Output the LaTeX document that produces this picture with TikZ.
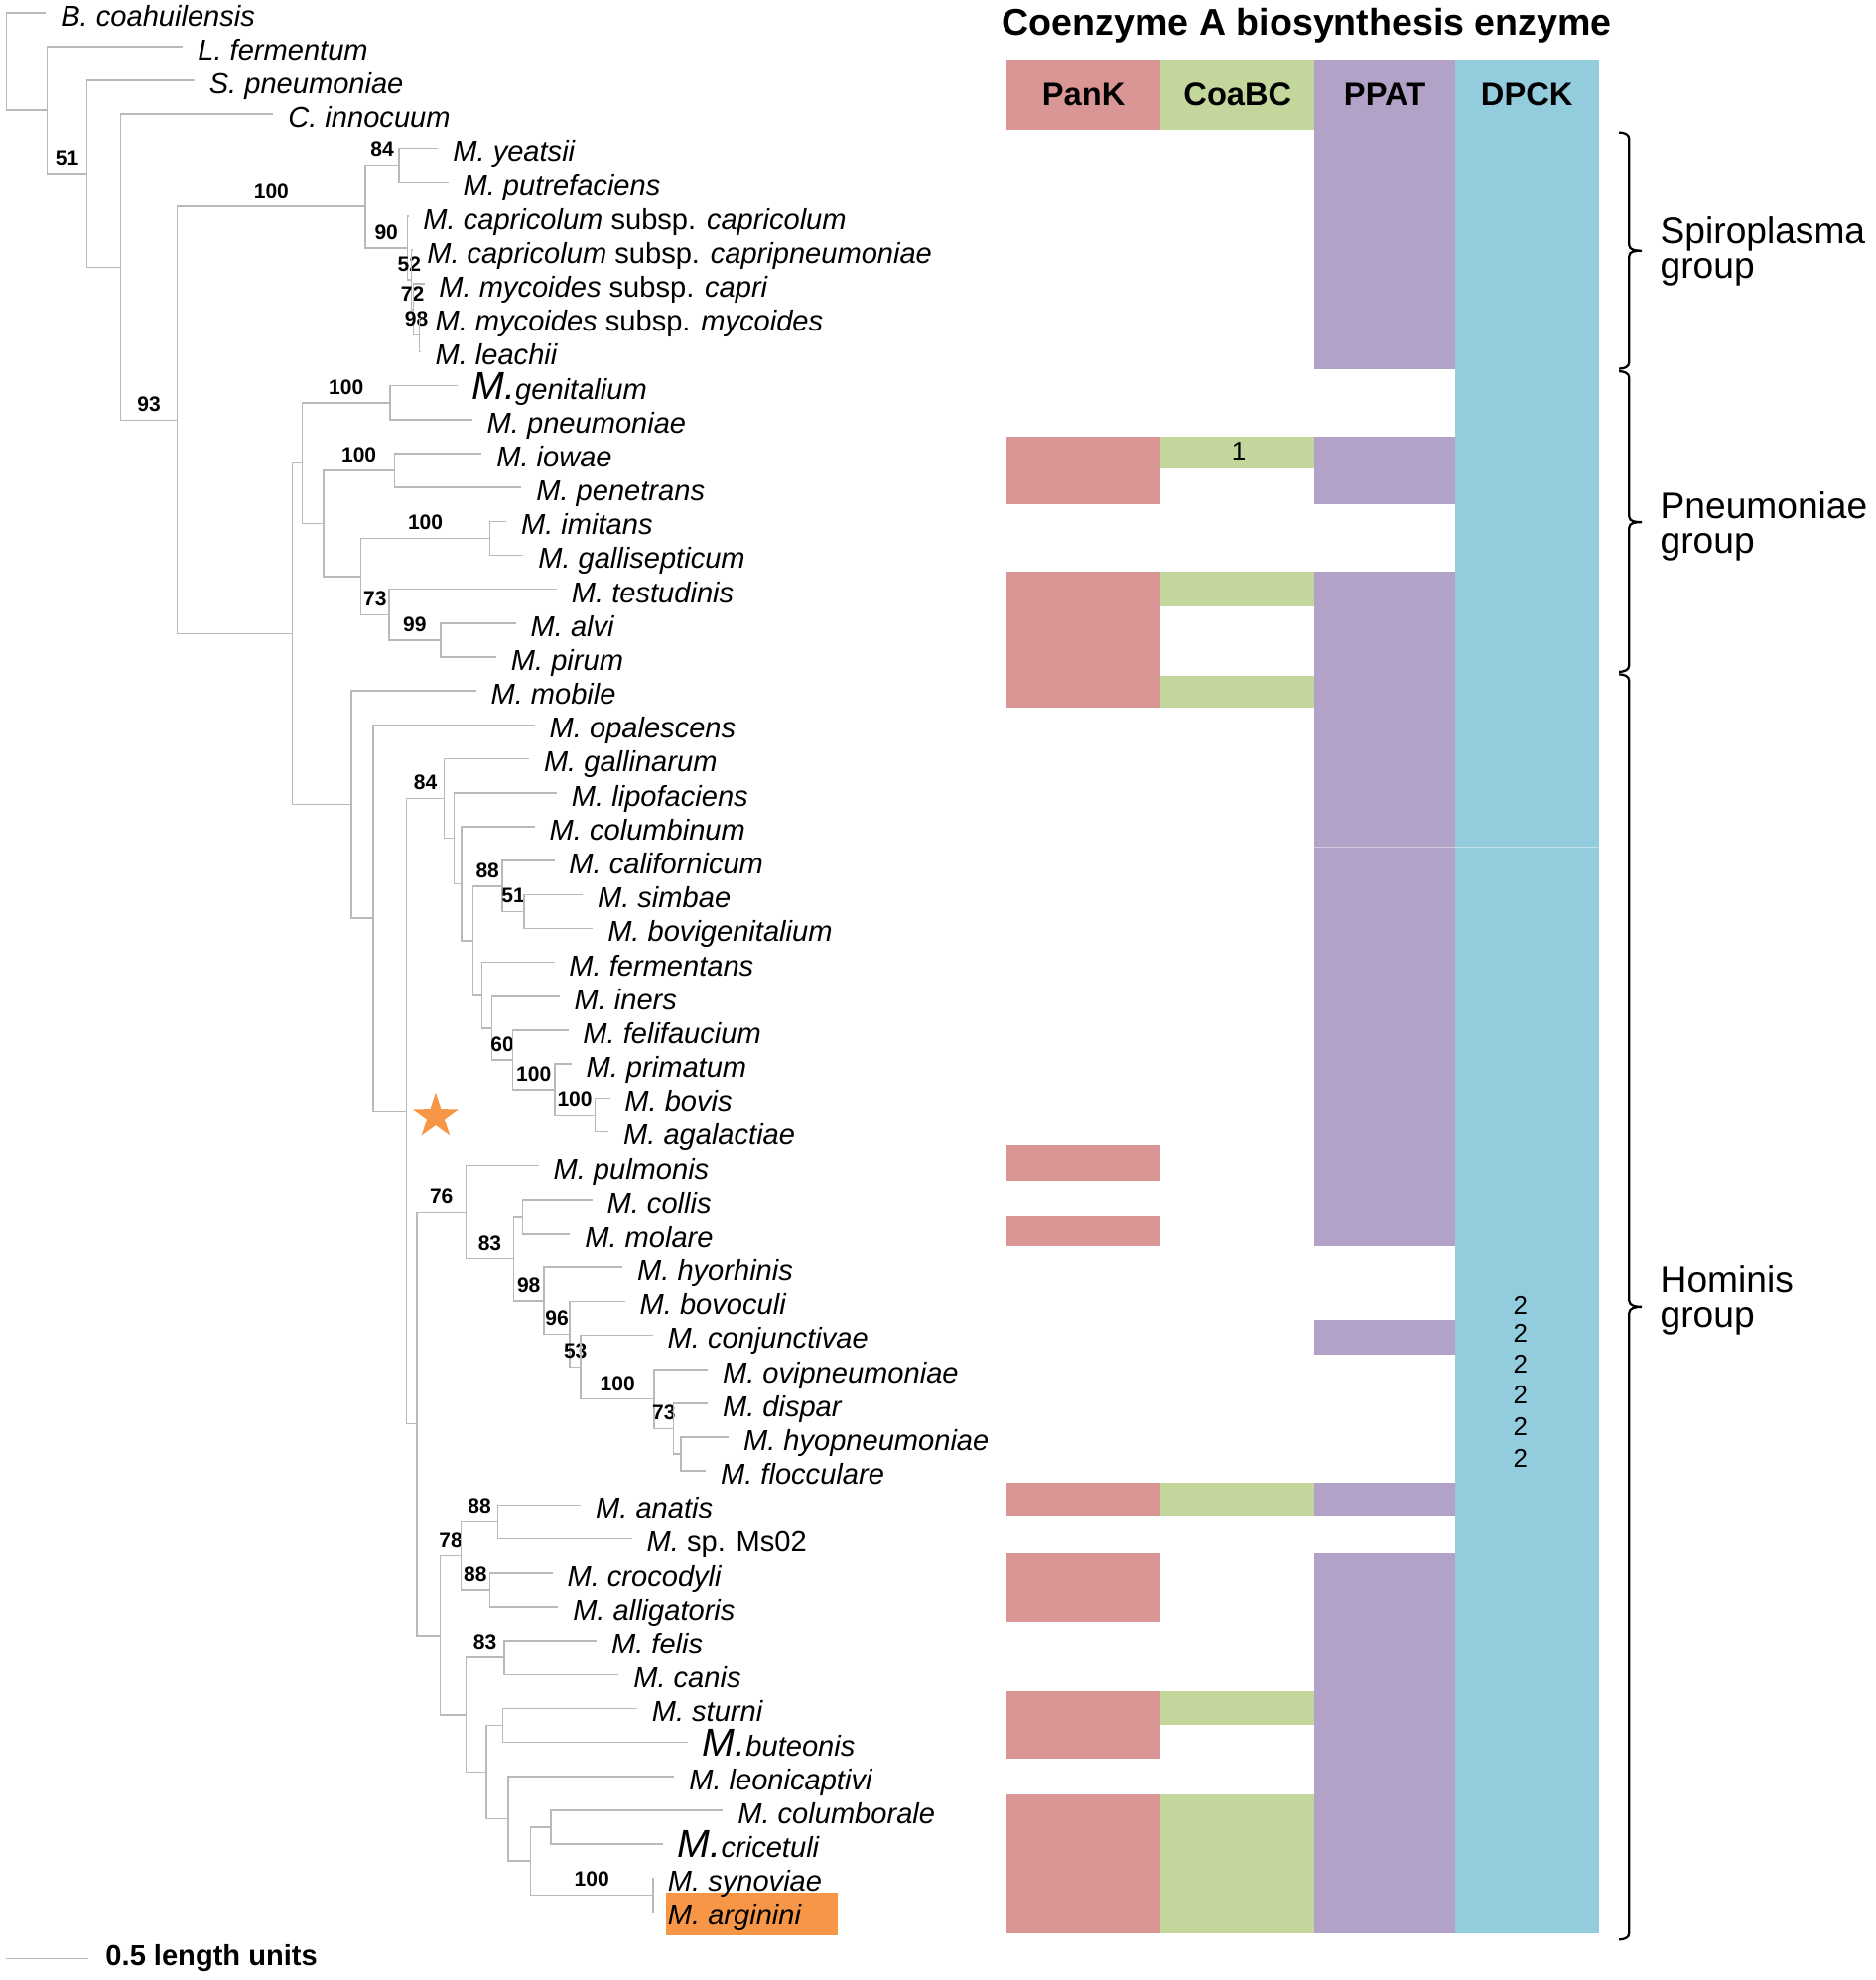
\documentclass[tikz,border=0pt]{standalone}
\usepackage{fontspec}
\setmainfont{Liberation Sans}
\usepackage{xcolor}
\usetikzlibrary{shapes.geometric}

\definecolor{pankred}{HTML}{D99694}
\definecolor{coagreen}{HTML}{C3D69B}
\definecolor{ppatpurple}{HTML}{B3A2C7}
\definecolor{dpckblue}{HTML}{93CDDD}
\definecolor{markorange}{HTML}{F79646}

\newcommand{\bigM}{{\fontsize{8.8}{9}\selectfont M.}}

\begin{document}
\begin{tikzpicture}[x=0.01cm, y=-0.01cm,
    branch/.style={draw=gray!55, line width=0.35pt},
    taxon/.style={anchor=base west, inner sep=0pt, xshift=0.11cm, yshift=-0.105cm, font=\fontsize{6.5}{7}\selectfont\itshape},
    boot/.style={above, inner sep=0pt, yshift=0.06cm, font=\fontsize{4.7}{5}\selectfont\bfseries},
    head/.style={font=\fontsize{7.3}{8}\selectfont\bfseries},
    grouplabel/.style={anchor=west, align=left, inner sep=0pt, font=\fontsize{8.3}{7.8}\selectfont},
    bracket/.style={draw=black, line width=0.5pt},
    count/.style={inner sep=0pt, font=\fontsize{5.8}{6}\selectfont}]
    \useasboundingbox (0,0) rectangle (1485,1568);

    % Enzyme columns
    \fill[pankred] (797,47) rectangle (919,103);
    \fill[coagreen] (919,47) rectangle (1041,103);
    \fill[ppatpurple] (1041,47) rectangle (1152,292);
    \fill[dpckblue] (1152,47) rectangle (1266,1531);
    \node[font=\fontsize{8.4}{10}\selectfont\bfseries] (title) at (1035,20) {Coenzyme A biosynthesis enzyme};
    \node[head] (hPanK) at (858,75) {PanK};
    \node[head] (hCoaBC) at (980,75) {CoaBC};
    \node[head] (hPPAT) at (1096.5,75) {PPAT};
    \node[head] (hDPCK) at (1209,75) {DPCK};

    % PanK
    \fill[pankred] (797,346) rectangle (919,399);
    \fill[pankred] (797,453) rectangle (919,560);
    \fill[pankred] (797,907) rectangle (919,935);
    \fill[pankred] (797,963) rectangle (919,986);
    \fill[pankred] (797,1174) rectangle (919,1200);
    \fill[pankred] (797,1230) rectangle (919,1284);
    \fill[pankred] (797,1339) rectangle (919,1393);
    \fill[pankred] (797,1421) rectangle (919,1531);
    % CoaBC
    \fill[coagreen] (919,346) rectangle (1041,371);
    \fill[coagreen] (919,453) rectangle (1041,480);
    \fill[coagreen] (919,535) rectangle (1041,560);
    \fill[coagreen] (919,1174) rectangle (1041,1200);
    \fill[coagreen] (919,1339) rectangle (1041,1366);
    \fill[coagreen] (919,1421) rectangle (1041,1531);
    % PPAT
    \fill[ppatpurple] (1041,346) rectangle (1152,399);
    \fill[ppatpurple] (1041,453) rectangle (1152,986);
    \fill[ppatpurple] (1041,1045) rectangle (1152,1073);
    \fill[ppatpurple] (1041,1174) rectangle (1152,1200);
    \fill[ppatpurple] (1041,1230) rectangle (1152,1531);
    \draw[white, opacity=0.45, line width=0.3pt] (1041,671) -- (1266,671);

    % Copy numbers
    \node[count] (c1) at (981,357) {1};
    \node[count] (c2a) at (1204,1034) {2};
    \node[count] (c2b) at (1204,1056) {2};
    \node[count] (c2c) at (1204,1080) {2};
    \node[count] (c2d) at (1204,1105) {2};
    \node[count] (c2e) at (1204,1130) {2};
    \node[count] (c2f) at (1204,1155) {2};

    % Groups
    \draw[bracket] (1282,105) to[out=0,in=90] (1290,110) -- (1290,194) to[out=-90,in=180] (1300,198.6)
        to[out=180,in=90] (1290,203) -- (1290,287) to[out=-90,in=0] (1282,292);
    \draw[bracket] (1282,294) to[out=0,in=90] (1290,299) -- (1290,409) to[out=-90,in=180] (1300,413.5)
        to[out=180,in=90] (1290,418) -- (1290,527) to[out=-90,in=0] (1282,532);
    \draw[bracket] (1282,534) to[out=0,in=90] (1290,539) -- (1290,1030) to[out=-90,in=180] (1300,1035)
        to[out=180,in=90] (1290,1040) -- (1290,1531) to[out=-90,in=0] (1282,1536);
    \node[grouplabel] (gSpiro) at (1314,199) {Spiroplasma\\group};
    \node[grouplabel] (gPneumo) at (1314,417) {Pneumoniae\\group};
    \node[grouplabel] (gHominis) at (1314,1030) {Hominis\\group};

    % Internal nodes of the tree
    \coordinate (nRoot) at (5,48.64);
    \coordinate (nA) at (37.4,87.28);
    \coordinate (nB) at (68.8,137.7);
    \coordinate (nC) at (95.5,211.68);
    \coordinate (nD) at (140.4,332.77);
    \coordinate (nE) at (289.3,163.6);
    \coordinate (nF) at (316,130.87);
    \coordinate (nG) at (322.5,196.34);
    \coordinate (nH) at (325.8,221.52);
    \coordinate (nI) at (327.5,245.03);
    \coordinate (nJ) at (332,265.17);
    \coordinate (nP) at (231.5,501.93);
    \coordinate (nQ) at (239.4,366.74);
    \coordinate (nS) at (308.7,318.89);
    \coordinate (nT) at (256.2,414.58);
    \coordinate (nU) at (312.3,372.61);
    \coordinate (nV) at (285.7,456.55);
    \coordinate (nW) at (388,426.33);
    \coordinate (nX) at (308.1,486.77);
    \coordinate (nY) at (348.8,506.91);
    \coordinate (nR) at (278.3,637.11);
    \coordinate (nZ) at (295.5,727.02);
    \coordinate (nAA) at (321.9,879.97);
    \coordinate (nAB) at (351.7,632.35);
    \coordinate (nAC) at (359.6,663.77);
    \coordinate (nAD) at (365.5,699.76);
    \coordinate (nAE) at (374.4,744.88);
    \coordinate (nAF) at (397.8,701.65);
    \coordinate (nAG) at (415,721.79);
    \coordinate (nAH) at (381.7,788.1);
    \coordinate (nAI) at (389.6,814.13);
    \coordinate (nAJ) at (406,839.31);
    \coordinate (nAK) at (439.2,862.81);
    \coordinate (nAL) at (471.1,882.95);
    \coordinate (nAN) at (330,1127.58);
    \coordinate (nAO) at (369.1,960.07);
    \coordinate (nBC) at (406.6,996.9);
    \coordinate (nBD) at (413.7,963.53);
    \coordinate (nBE) at (430.8,1030.27);
    \coordinate (nBF) at (451.3,1056.71);
    \coordinate (nBG) at (460,1082.73);
    \coordinate (nBH) at (518,1107.91);
    \coordinate (nBI) at (533.4,1131.41);
    \coordinate (nBJ) at (539,1151.55);
    \coordinate (nAT) at (348.7,1295.09);
    \coordinate (nAR) at (365,1232.13);
    \coordinate (nAQ) at (394.3,1205.27);
    \coordinate (nAS) at (387.8,1258.99);
    \coordinate (nAU) at (368.9,1358.04);
    \coordinate (nAV) at (399.2,1312.71);
    \coordinate (nAW) at (385,1403.37);
    \coordinate (nAX) at (398,1366.43);
    \coordinate (nAY) at (402.4,1440.3);
    \coordinate (nAZ) at (420.1,1473.87);
    \coordinate (nBA) at (436,1447.01);
    \coordinate (nBB) at (517.2,1500.73);

    % Leaf tips
    \coordinate (lBcoa) at (36.5,10);
    \coordinate (lLfer) at (145,36.86);
    \coordinate (lSpn) at (154,63.72);
    \coordinate (lCin) at (216.5,90.58);
    \coordinate (lYea) at (347,117.44);
    \coordinate (lPut) at (355,144.3);
    \coordinate (lCapCap) at (323.5,171.16);
    \coordinate (lCapCpn) at (326.5,198.02);
    \coordinate (lMycCap) at (336,224.88);
    \coordinate (lMycMyc) at (333,251.74);
    \coordinate (lLea) at (333,278.6);
    \coordinate (lGen) at (362,305.46);
    \coordinate (lPne) at (374,332.32);
    \coordinate (lIow) at (381.5,359.18);
    \coordinate (lPen) at (413,386.04);
    \coordinate (lImi) at (401,412.9);
    \coordinate (lGal) at (414.5,439.76);
    \coordinate (lTes) at (441,466.62);
    \coordinate (lAlv) at (408.5,493.48);
    \coordinate (lPir) at (393,520.34);
    \coordinate (lMob) at (377,547.2);
    \coordinate (lOpa) at (423.5,574.06);
    \coordinate (lGln) at (419,600.92);
    \coordinate (lLip) at (441,627.78);
    \coordinate (lCol) at (423.5,654.64);
    \coordinate (lCal) at (439,681.5);
    \coordinate (lSim) at (461.5,708.36);
    \coordinate (lBvg) at (469.5,735.22);
    \coordinate (lFer) at (439,762.08);
    \coordinate (lIne) at (443,788.94);
    \coordinate (lFel) at (450,815.8);
    \coordinate (lPri) at (452.5,842.66);
    \coordinate (lBov) at (483,869.52);
    \coordinate (lAga) at (482,896.38);
    \coordinate (lPul) at (426.5,923.24);
    \coordinate (lCls) at (469,950.1);
    \coordinate (lMol) at (451.5,976.96);
    \coordinate (lHyr) at (493,1003.82);
    \coordinate (lBvc) at (495,1030.68);
    \coordinate (lCon) at (517,1057.54);
    \coordinate (lOvi) at (560.5,1084.4);
    \coordinate (lDis) at (560.5,1111.26);
    \coordinate (lHyp) at (577,1138.12);
    \coordinate (lFlo) at (559,1164.98);
    \coordinate (lAna) at (460,1191.84);
    \coordinate (lMs) at (500.5,1218.7);
    \coordinate (lCro) at (437.5,1245.56);
    \coordinate (lAll) at (442,1272.42);
    \coordinate (lFls) at (472.5,1299.28);
    \coordinate (lCan) at (490,1326.14);
    \coordinate (lStu) at (504.5,1353);
    \coordinate (lBut) at (544.5,1379.86);
    \coordinate (lLeo) at (534,1406.72);
    \coordinate (lClb) at (572.5,1433.58);
    \coordinate (lCri) at (525,1460.44);
    \coordinate (lSyn) at (517.2,1487.3);
    \coordinate (lArg) at (517.2,1514.16);

    % Outgroups
    \draw[branch] (nRoot) |- (lBcoa);
    \draw[branch] (nRoot) |- (nA);
    \draw[branch] (nA) |- (lLfer);
    \draw[branch] (nA) |- (nB) node[boot, pos=0.75] {51};
    \draw[branch] (nB) |- (lSpn);
    \draw[branch] (nB) |- (nC);
    \draw[branch] (nC) |- (lCin);
    \draw[branch] (nC) |- (nD) node[boot, pos=0.75] {93};
    \draw[branch] (nD) |- (nE) node[boot, pos=0.75] {100};
    \draw[branch] (nD) |- (nP);

    % Spiroplasma group
    \draw[branch] (nE) |- (nF) node[boot, pos=0.75] {84};
    \draw[branch] (nE) |- (nG) node[boot, pos=0.75] {90};
    \draw[branch] (nF) |- (lYea);
    \draw[branch] (nF) |- (lPut);
    \draw[branch] (nG) |- (lCapCap);
    \draw[branch] (nG) |- (nH) node[boot, pos=0.75] {52};
    \draw[branch] (nH) |- (lCapCpn);
    \draw[branch] (nH) |- (nI) node[boot, pos=0.75] {72};
    \draw[branch] (nI) |- (lMycCap);
    \draw[branch] (nI) |- (nJ) node[boot, pos=0.75] {98};
    \draw[branch] (nJ) |- (lMycMyc);
    \draw[branch] (nJ) |- (lLea);

    % Pneumoniae group
    \draw[branch] (nP) |- (nQ);
    \draw[branch] (nP) |- (nR);
    \draw[branch] (nQ) |- (nS) node[boot, pos=0.75] {100};
    \draw[branch] (nQ) |- (nT);
    \draw[branch] (nS) |- (lGen);
    \draw[branch] (nS) |- (lPne);
    \draw[branch] (nT) |- (nU) node[boot, pos=0.75] {100};
    \draw[branch] (nT) |- (nV);
    \draw[branch] (nU) |- (lIow);
    \draw[branch] (nU) |- (lPen);
    \draw[branch] (nV) |- (nW) node[boot, pos=0.75] {100};
    \draw[branch] (nV) |- (nX) node[boot, pos=0.75] {73};
    \draw[branch] (nW) |- (lImi);
    \draw[branch] (nW) |- (lGal);
    \draw[branch] (nX) |- (lTes);
    \draw[branch] (nX) |- (nY) node[boot, pos=0.75] {99};
    \draw[branch] (nY) |- (lAlv);
    \draw[branch] (nY) |- (lPir);

    % Hominis group
    \draw[branch] (nR) |- (lMob);
    \draw[branch] (nR) |- (nZ);
    \draw[branch] (nZ) |- (lOpa);
    \draw[branch] (nZ) |- (nAA);
    \draw[branch] (nAA) |- (nAB) node[boot, pos=0.75] {84};
    \draw[branch] (nAA) |- (nAN);
    \draw[branch] (nAB) |- (lGln);
    \draw[branch] (nAB) |- (nAC);
    \draw[branch] (nAC) |- (lLip);
    \draw[branch] (nAC) |- (nAD);
    \draw[branch] (nAD) |- (lCol);
    \draw[branch] (nAD) |- (nAE);
    \draw[branch] (nAE) |- (nAF) node[boot, pos=0.75] {88};
    \draw[branch] (nAE) |- (nAH);
    \draw[branch] (nAF) |- (lCal);
    \draw[branch] (nAF) |- (nAG) node[boot, pos=0.75] {51};
    \draw[branch] (nAG) |- (lSim);
    \draw[branch] (nAG) |- (lBvg);
    \draw[branch] (nAH) |- (lFer);
    \draw[branch] (nAH) |- (nAI);
    \draw[branch] (nAI) |- (lIne);
    \draw[branch] (nAI) |- (nAJ) node[boot, pos=0.75] {60};
    \draw[branch] (nAJ) |- (lFel);
    \draw[branch] (nAJ) |- (nAK) node[boot, pos=0.75] {100};
    \draw[branch] (nAK) |- (lPri);
    \draw[branch] (nAK) |- (nAL) node[boot, pos=0.75] {100};
    \draw[branch] (nAL) |- (lBov);
    \draw[branch] (nAL) |- (lAga);
    \draw[branch] (nAN) |- (nAO) node[boot, pos=0.75] {76};
    \draw[branch] (nAN) |- (nAT);
    \draw[branch] (nAO) |- (lPul);
    \draw[branch] (nAO) |- (nBC) node[boot, pos=0.75] {83};
    \draw[branch] (nBC) |- (nBD);
    \draw[branch] (nBC) |- (nBE) node[boot, pos=0.75] {98};
    \draw[branch] (nBD) |- (lCls);
    \draw[branch] (nBD) |- (lMol);
    \draw[branch] (nBE) |- (lHyr);
    \draw[branch] (nBE) |- (nBF) node[boot, pos=0.75] {96};
    \draw[branch] (nBF) |- (lBvc);
    \draw[branch] (nBF) |- (nBG) node[boot, pos=0.75] {53};
    \draw[branch] (nBG) |- (lCon);
    \draw[branch] (nBG) |- (nBH) node[boot, pos=0.75] {100};
    \draw[branch] (nBH) |- (lOvi);
    \draw[branch] (nBH) |- (nBI) node[boot, pos=0.75] {73};
    \draw[branch] (nBI) |- (lDis);
    \draw[branch] (nBI) |- (nBJ);
    \draw[branch] (nBJ) |- (lHyp);
    \draw[branch] (nBJ) |- (lFlo);
    \draw[branch] (nAT) |- (nAR) node[boot, pos=0.75] {78};
    \draw[branch] (nAT) |- (nAU);
    \draw[branch] (nAR) |- (nAQ) node[boot, pos=0.75] {88};
    \draw[branch] (nAR) |- (nAS) node[boot, pos=0.75] {88};
    \draw[branch] (nAQ) |- (lAna);
    \draw[branch] (nAQ) |- (lMs);
    \draw[branch] (nAS) |- (lCro);
    \draw[branch] (nAS) |- (lAll);
    \draw[branch] (nAU) |- (nAV) node[boot, pos=0.75] {83};
    \draw[branch] (nAU) |- (nAW);
    \draw[branch] (nAV) |- (lFls);
    \draw[branch] (nAV) |- (lCan);
    \draw[branch] (nAW) |- (nAX);
    \draw[branch] (nAW) |- (nAY);
    \draw[branch] (nAX) |- (lStu);
    \draw[branch] (nAX) |- (lBut);
    \draw[branch] (nAY) |- (lLeo);
    \draw[branch] (nAY) |- (nAZ);
    \draw[branch] (nAZ) |- (nBA);
    \draw[branch] (nAZ) |- (nBB) node[boot, pos=0.75] {100};
    \draw[branch] (nBA) |- (lClb);
    \draw[branch] (nBA) |- (lCri);
    \draw[branch] (nBB) |- (lSyn);
    \draw[branch] (nBB) |- (lArg);

    % Star and highlight
    \node[star, star points=5, star point ratio=2.6, fill=markorange, inner sep=0pt, minimum size=0.38cm] (mark) at (345,884) {};
    \fill[markorange] (527,1499) rectangle (663,1533);

    % Taxon names
    \node[taxon] (tBcoa) at (lBcoa) {B. coahuilensis};
    \node[taxon] (tLfer) at (lLfer) {L. fermentum};
    \node[taxon] (tSpn) at (lSpn) {S. pneumoniae};
    \node[taxon] (tCin) at (lCin) {C. innocuum};
    \node[taxon] (tYea) at (lYea) {M. yeatsii};
    \node[taxon] (tPut) at (lPut) {M. putrefaciens};
    \node[taxon] (tCapCap) at (lCapCap) {M. capricolum \textup{subsp.} capricolum};
    \node[taxon] (tCapCpn) at (lCapCpn) {M. capricolum \textup{subsp.} capripneumoniae};
    \node[taxon] (tMycCap) at (lMycCap) {M. mycoides \textup{subsp.} capri};
    \node[taxon] (tMycMyc) at (lMycMyc) {M. mycoides \textup{subsp.} mycoides};
    \node[taxon] (tLea) at (lLea) {M. leachii};
    \node[taxon] (tGen) at (lGen) {\bigM genitalium};
    \node[taxon] (tPne) at (lPne) {M. pneumoniae};
    \node[taxon] (tIow) at (lIow) {M. iowae};
    \node[taxon] (tPen) at (lPen) {M. penetrans};
    \node[taxon] (tImi) at (lImi) {M. imitans};
    \node[taxon] (tGal) at (lGal) {M. gallisepticum};
    \node[taxon] (tTes) at (lTes) {M. testudinis};
    \node[taxon] (tAlv) at (lAlv) {M. alvi};
    \node[taxon] (tPir) at (lPir) {M. pirum};
    \node[taxon] (tMob) at (lMob) {M. mobile};
    \node[taxon] (tOpa) at (lOpa) {M. opalescens};
    \node[taxon] (tGln) at (lGln) {M. gallinarum};
    \node[taxon] (tLip) at (lLip) {M. lipofaciens};
    \node[taxon] (tCol) at (lCol) {M. columbinum};
    \node[taxon] (tCal) at (lCal) {M. californicum};
    \node[taxon] (tSim) at (lSim) {M. simbae};
    \node[taxon] (tBvg) at (lBvg) {M. bovigenitalium};
    \node[taxon] (tFer) at (lFer) {M. fermentans};
    \node[taxon] (tIne) at (lIne) {M. iners};
    \node[taxon] (tFel) at (lFel) {M. felifaucium};
    \node[taxon] (tPri) at (lPri) {M. primatum};
    \node[taxon] (tBov) at (lBov) {M. bovis};
    \node[taxon] (tAga) at (lAga) {M. agalactiae};
    \node[taxon] (tPul) at (lPul) {M. pulmonis};
    \node[taxon] (tCls) at (lCls) {M. collis};
    \node[taxon] (tMol) at (lMol) {M. molare};
    \node[taxon] (tHyr) at (lHyr) {M. hyorhinis};
    \node[taxon] (tBvc) at (lBvc) {M. bovoculi};
    \node[taxon] (tCon) at (lCon) {M. conjunctivae};
    \node[taxon] (tOvi) at (lOvi) {M. ovipneumoniae};
    \node[taxon] (tDis) at (lDis) {M. dispar};
    \node[taxon] (tHyp) at (lHyp) {M. hyopneumoniae};
    \node[taxon] (tFlo) at (lFlo) {M. flocculare};
    \node[taxon] (tAna) at (lAna) {M. anatis};
    \node[taxon] (tMs) at (lMs) {M. \textup{sp. Ms02}};
    \node[taxon] (tCro) at (lCro) {M. crocodyli};
    \node[taxon] (tAll) at (lAll) {M. alligatoris};
    \node[taxon] (tFls) at (lFls) {M. felis};
    \node[taxon] (tCan) at (lCan) {M. canis};
    \node[taxon] (tStu) at (lStu) {M. sturni};
    \node[taxon] (tBut) at (lBut) {\bigM buteonis};
    \node[taxon] (tLeo) at (lLeo) {M. leonicaptivi};
    \node[taxon] (tClb) at (lClb) {M. columborale};
    \node[taxon] (tCri) at (lCri) {\bigM cricetuli};
    \node[taxon] (tSyn) at (lSyn) {M. synoviae};
    \node[taxon] (tArg) at (lArg) {M. arginini};

    % Scale bar
    \coordinate (sbLeft) at (5,1551);
    \coordinate (sbRight) at (70,1551);
    \draw[branch] (sbLeft) -- (sbRight);
    \node[anchor=west, inner sep=0pt, font=\fontsize{6.5}{7}\selectfont\bfseries] (sbLabel) at (83,1551) {0.5 length units};
\end{tikzpicture}
\end{document}
